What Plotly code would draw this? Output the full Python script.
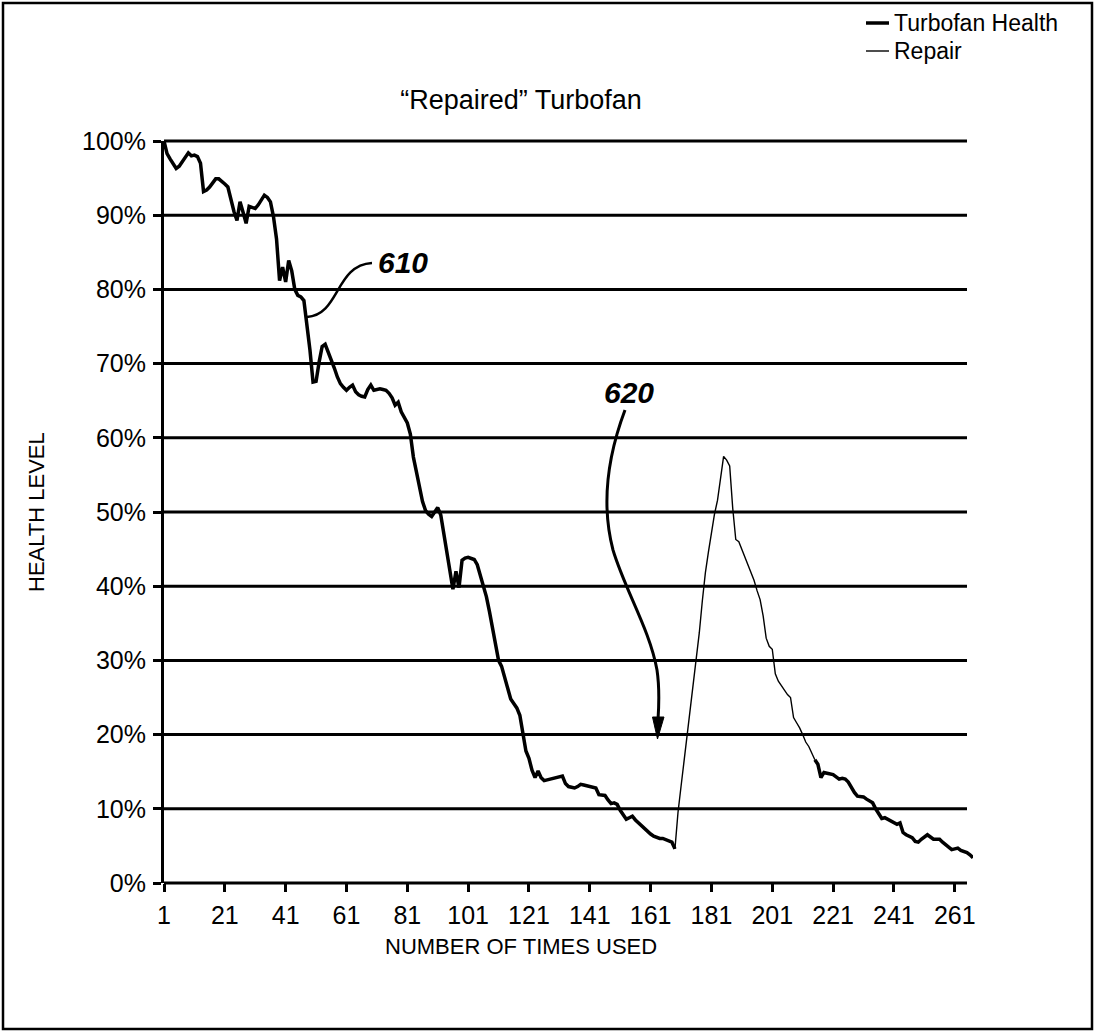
import plotly.graph_objects as go

# ---------------- data ----------------
health_x_part1 = list(range(1, 170))
health_y_part1 = [
    100, 98.3, 97.6, 97.0, 96.3, 96.6, 97.2, 98.0, 98.4, 98.0,
    98.1, 97.9, 97.0, 93.2, 93.4, 93.8, 94.3, 94.9, 94.9, 94.6,
    94.2, 93.8, 92.0, 90.5, 89.3, 91.8, 90.4, 88.9, 91.2, 91.0,
    90.9, 91.4, 92.0, 92.7, 92.4, 91.8, 89.8, 86.8, 81.2, 83.0,
    81.0, 83.9, 82.5, 80.0, 79.2, 79.0, 78.5, 75.5, 71.8, 67.5,
    67.6, 70.2, 72.3, 72.6, 71.6, 70.6, 69.4, 68.2, 67.3, 66.8,
    66.4, 66.8, 67.1, 66.2, 65.8, 65.6, 65.5, 66.5, 67.1, 66.4,
    66.5, 66.6, 66.5, 66.4, 66.0, 65.4, 64.4, 64.8, 63.5, 62.7,
    62.0, 60.5, 57.4, 55.4, 53.6, 51.4, 50.2, 49.7, 49.4, 50.0,
    50.6, 49.6, 47.0, 44.8, 41.8, 39.6, 42.0, 39.8, 43.5, 43.8,
    43.9, 43.8, 43.6, 42.9, 41.5, 40.0, 38.6, 36.6, 34.5, 32.5,
    30.0, 29.2, 27.8, 26.0, 24.8, 24.2, 23.6, 22.6, 20.5, 17.8,
    16.8, 15.2, 14.2, 15.1, 14.2, 13.8, 13.9, 14.0, 14.1, 14.2,
    14.3, 14.4, 13.4, 13.0, 12.9, 12.8, 13.0, 13.3, 13.2, 13.1,
    13.1, 13.0, 12.8, 11.9, 11.9, 11.8, 11.2, 10.7, 10.8, 10.6,
    9.8, 9.2, 8.6, 8.8, 9.0, 8.5, 8.1, 7.8, 7.4, 7.0,
    6.6, 6.3, 6.1, 6.0, 6.0, 5.8, 5.6, 5.5, 4.6,
]

repair_x = list(range(169, 216))
repair_y = [
    4.6, 9.5, 13.0, 16.5, 19.8, 23.2, 26.6, 29.8, 33.7, 38.0,
    41.8, 44.6, 47.4, 49.7, 51.6, 54.5, 57.5, 57.0, 56.2, 50.5,
    46.3, 46.0, 45.0, 44.0, 43.0, 41.8, 40.8, 39.4, 38.2, 36.0,
    33.0, 31.9, 31.5, 28.2, 27.2, 26.6, 26.0, 25.4, 25.0, 22.3,
    21.6, 20.9, 20.0, 19.0, 18.4, 17.5, 16.6,
]

health_x_part2 = list(range(215, 268))
health_y_part2 = [
    16.6, 16.0, 14.2, 14.9, 14.8, 14.7, 14.6, 14.3, 14.0, 14.1,
    14.0, 13.6, 12.8, 12.2, 11.7, 11.6, 11.6, 11.3, 11.1, 10.8,
    10.0, 9.3, 8.7, 8.8, 8.6, 8.4, 8.2, 7.9, 8.1, 6.8,
    6.5, 6.3, 6.1, 5.6, 5.5, 5.9, 6.2, 6.5, 6.2, 5.9,
    5.9, 5.9, 5.5, 5.2, 4.8, 4.5, 4.6, 4.7, 4.4, 4.3,
    4.1, 3.8, 3.4,
]

x_tick_vals = list(range(1, 262, 20))
x_tick_text = [str(v) for v in x_tick_vals]
y_tick_vals = list(range(0, 101, 10))
y_tick_text = [f"{v}%" for v in y_tick_vals]

title_text = "\u201cRepaired\u201d Turbofan"
legend_names = ["Turbofan Health", "Repair"]

# ---------------- layout geometry ----------------
W, H = 1095, 1032
PL, PT, PW, PH = 164, 141, 809, 742
X0, X1 = 1, 267
GRID_END_PX = 967

def px_x(px):
    return X0 + (px - PL) / PW * (X1 - X0)

def py_y(py):
    return (PT + PH - py) / PH * 100

def px_p(px):
    return (px - PL) / PW

def py_p(py):
    return (PT + PH - py) / PH

TEXT_FONT = "Liberation Sans, Arial, sans-serif"
TICK_FONT = dict(family=TEXT_FONT, size=25, color="black")

health_x = health_x_part1 + [None] + health_x_part2
health_y = health_y_part1 + [None] + health_y_part2

fig = go.Figure()
fig.add_trace(go.Scatter(x=health_x, y=health_y, mode="lines", name=legend_names[0],
                         line=dict(color="black", width=3.5), connectgaps=False,
                         showlegend=False))
fig.add_trace(go.Scatter(x=repair_x, y=repair_y, mode="lines", name=legend_names[1],
                         line=dict(color="black", width=1.4), showlegend=False))

shapes = []
# horizontal grid lines (yref paper so the 0% and 100% lines are not clipped)
for v in y_tick_vals:
    shapes.append(dict(type="line", xref="x", yref="paper", x0=X0, x1=px_x(GRID_END_PX),
                       y0=v / 100, y1=v / 100, line=dict(color="black", width=3), layer="below"))

# outer border
shapes.append(dict(type="rect", xref="paper", yref="paper",
                   x0=px_p(3), x1=px_p(1092), y0=py_p(3), y1=py_p(1029),
                   line=dict(color="black", width=2.5), fillcolor="rgba(0,0,0,0)"))

# legend samples
LEG_Y1, LEG_Y2 = 23, 51
shapes.append(dict(type="line", xref="paper", yref="paper",
                   x0=px_p(866), x1=px_p(889), y0=py_p(LEG_Y1), y1=py_p(LEG_Y1),
                   line=dict(color="black", width=3.5)))
shapes.append(dict(type="line", xref="paper", yref="paper",
                   x0=px_p(866), x1=px_p(889), y0=py_p(LEG_Y2), y1=py_p(LEG_Y2),
                   line=dict(color="black", width=1.4)))

def P(px, py):
    return f"{px_x(px):.3f},{py_y(py):.3f}"

# leader for 610
path610 = f"M {P(307,317)} C {P(340,315)} {P(335,265)} {P(372,263)}"
shapes.append(dict(type="path", xref="x", yref="y", path=path610,
                   line=dict(color="black", width=2.5)))

# arrow for 620
path620 = (f"M {P(625,410)} C {P(610,450)} {P(600,500)} {P(613,550)} "
           f"C {P(625,590)} {P(650,630)} {P(657,670)} Q {P(660,690)} {P(658,720)}")
shapes.append(dict(type="path", xref="x", yref="y", path=path620,
                   line=dict(color="black", width=3)))
head620 = f"M {P(652.5,717)} L {P(664,717)} L {P(657.5,739)} Z"
shapes.append(dict(type="path", xref="x", yref="y", path=head620,
                   line=dict(color="black", width=1), fillcolor="black"))

annotations = [
    dict(text=legend_names[0], xref="paper", yref="paper", x=px_p(892), y=py_p(LEG_Y1),
         xanchor="left", yanchor="middle", showarrow=False,
         font=dict(family=TEXT_FONT, size=23, color="black")),
    dict(text=legend_names[1], xref="paper", yref="paper", x=px_p(892), y=py_p(LEG_Y2),
         xanchor="left", yanchor="middle", showarrow=False,
         font=dict(family=TEXT_FONT, size=23, color="black")),
    dict(text="HEALTH LEVEL", xref="paper", yref="paper", x=px_p(36), y=py_p(512),
         xanchor="center", yanchor="middle", textangle=-90, showarrow=False,
         font=dict(family=TEXT_FONT, size=22, color="black")),
    dict(text="NUMBER OF TIMES USED", xref="paper", yref="paper", x=px_p(521), y=py_p(946),
         xanchor="center", yanchor="middle", showarrow=False,
         font=dict(family=TEXT_FONT, size=22, color="black")),
    dict(text="<b><i>610</i></b>", xref="x", yref="y", x=px_x(403), y=py_y(262),
         xanchor="center", yanchor="middle", showarrow=False,
         font=dict(family=TEXT_FONT, size=30, color="black")),
    dict(text="<b><i>620</i></b>", xref="x", yref="y", x=px_x(629), y=py_y(392),
         xanchor="center", yanchor="middle", showarrow=False,
         font=dict(family=TEXT_FONT, size=30, color="black")),
]

fig.update_layout(
    width=W, height=H,
    margin=dict(l=PL, r=W - PL - PW, t=PT, b=H - PT - PH, autoexpand=False),
    paper_bgcolor="white", plot_bgcolor="white",
    title=dict(text=title_text, x=521 / W, y=1 - 100 / H, xanchor="center", yanchor="middle",
               xref="container", yref="container",
               font=dict(family=TEXT_FONT, size=27, color="black")),
    shapes=shapes, annotations=annotations, showlegend=False,
)
fig.update_xaxes(range=[X0, X1], showgrid=False, zeroline=False, showline=False,
                 tickmode="array", tickvals=x_tick_vals, ticktext=x_tick_text,
                 ticks="outside", ticklen=8, tickwidth=3, tickcolor="black",
                 tickfont=TICK_FONT, ticklabelstandoff=2)
fig.update_yaxes(range=[0, 100], showgrid=False, zeroline=False, showline=True,
                 linewidth=3, linecolor="black",
                 tickmode="array", tickvals=y_tick_vals, ticktext=y_tick_text,
                 ticks="outside", ticklen=8, tickwidth=3, tickcolor="black",
                 tickfont=TICK_FONT, ticklabelstandoff=2)

fig.write_html("out.html", config={"displayModeBar": False},
               post_script="document.body.style.margin='0';document.body.style.padding='0';")
